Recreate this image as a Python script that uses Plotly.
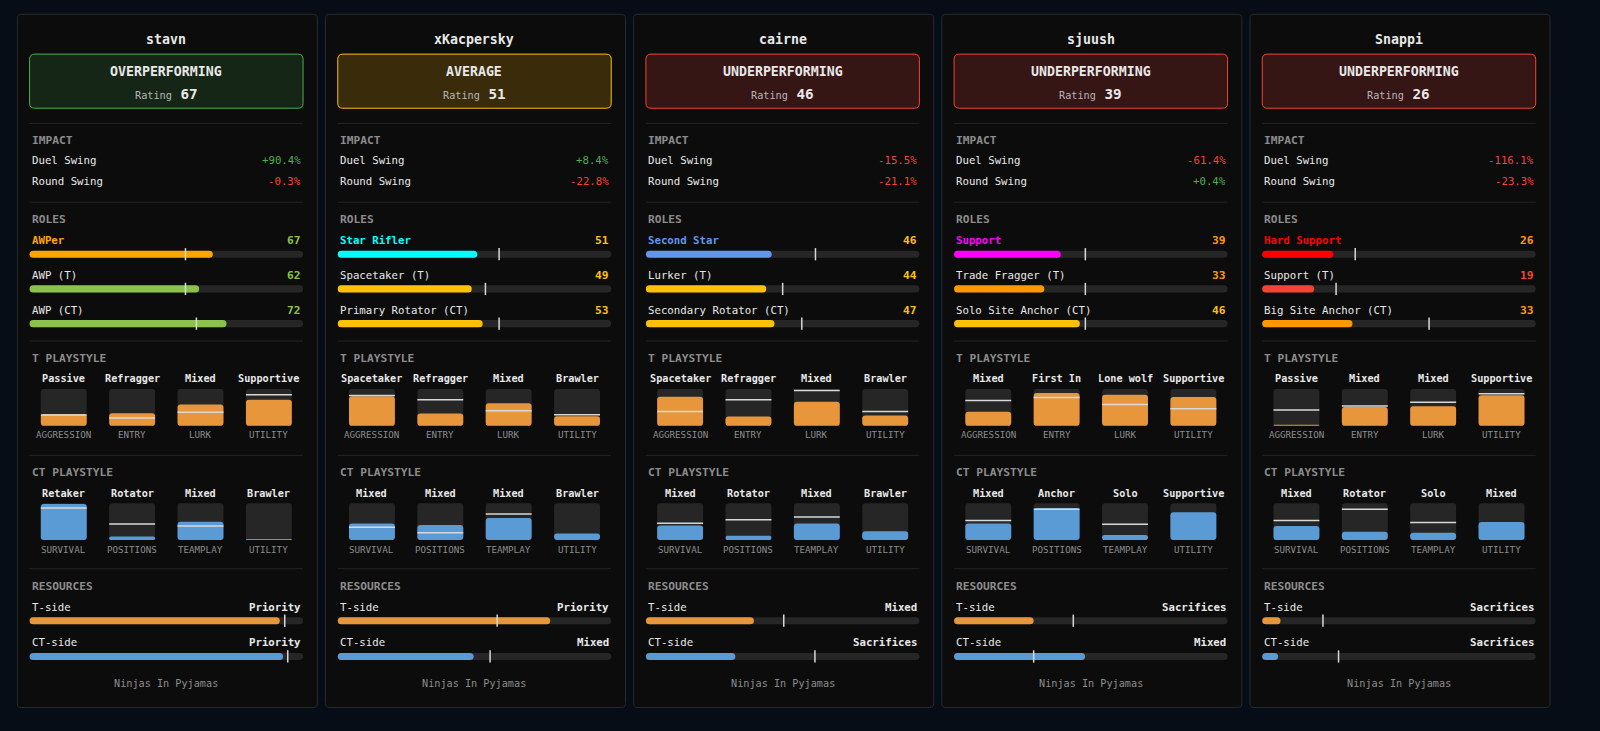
import plotly.graph_objects as go

W, H = 1600, 731
# layout grid was measured on a 1568 x 716 view of the page
GW, GH = 1568, 716
FS = W / GW
FONT = "DejaVu Sans Mono"

# ---- data ----
players = ["stavn", "xKacpersky", "cairne", "sjuush", "Snappi"]
team = "Ninjas In Pyjamas"
status = ["OVERPERFORMING", "AVERAGE", "UNDERPERFORMING", "UNDERPERFORMING", "UNDERPERFORMING"]
rating = [67, 51, 46, 39, 26]
duel_swing = [90.4, 8.4, -15.5, -61.4, -116.1]
round_swing = [-0.3, -22.8, -21.1, 0.4, -23.3]

role_names = [
    ["AWPer", "AWP (T)", "AWP (CT)"],
    ["Star Rifler", "Spacetaker (T)", "Primary Rotator (CT)"],
    ["Second Star", "Lurker (T)", "Secondary Rotator (CT)"],
    ["Support", "Trade Fragger (T)", "Solo Site Anchor (CT)"],
    ["Hard Support", "Support (T)", "Big Site Anchor (CT)"],
]
role_scores = [[67, 62, 72], [51, 49, 53], [46, 44, 47], [39, 33, 46], [26, 19, 33]]
role_avg = [[57, 57, 61], [59, 54, 59], [62, 50, 57], [48, 48, 48], [34, 27, 61]]
primary_role_color = ["#ffa500", "#00ffff", "#6495ed", "#ff00ff", "#ff0000"]

t_axes = ["AGGRESSION", "ENTRY", "LURK", "UTILITY"]
t_tags = [
    ["Passive", "Refragger", "Mixed", "Supportive"],
    ["Spacetaker", "Refragger", "Mixed", "Brawler"],
    ["Spacetaker", "Refragger", "Mixed", "Brawler"],
    ["Mixed", "First In", "Lone wolf", "Supportive"],
    ["Passive", "Mixed", "Mixed", "Supportive"],
]
t_vals = [[32, 34, 58, 71], [80, 33, 61, 26], [79, 25, 65, 28], [38, 89, 84, 78], [3, 51, 53, 83]]
t_avg = [[29, 21, 37, 84], [82, 71, 41, 30], [39, 71, 96, 39], [69, 77, 58, 46], [43, 54, 64, 87]]

ct_axes = ["SURVIVAL", "POSITIONS", "TEAMPLAY", "UTILITY"]
ct_tags = [
    ["Retaker", "Rotator", "Mixed", "Brawler"],
    ["Mixed", "Mixed", "Mixed", "Brawler"],
    ["Mixed", "Rotator", "Mixed", "Brawler"],
    ["Mixed", "Anchor", "Solo", "Supportive"],
    ["Mixed", "Rotator", "Solo", "Mixed"],
]
ct_vals = [[98, 10, 50, 3], [45, 41, 60, 18], [40, 12, 45, 24], [45, 87, 14, 76], [38, 23, 20, 49]]
ct_avg = [[87, 44, 38, None], [35, 20, 71, None], [46, 55, 63, None],
          [53, 84, 43, None], [53, 84, 48, None]]

res_t_tag = ["Priority", "Priority", "Mixed", "Sacrifices", "Sacrifices"]
res_t = [91.5, 77.7, 39.5, 29.1, 6.7]
res_t_avg = [93.3, 58.3, 50.4, 43.6, 22.2]
res_ct_tag = ["Priority", "Mixed", "Sacrifices", "Mixed", "Sacrifices"]
res_ct = [92.7, 49.7, 32.7, 47.9, 5.8]
res_ct_avg = [94.4, 55.7, 61.8, 29.1, 27.9]

# ---- style ----
PAGE_BG = "#060d17"
CARD_BG = "#0c0c0c"
CARD_LINE = "#2a2a2a"
TRACK = "#262626"
ORANGE = "#e8963c"
BLUE = "#5b9bd5"
MARK = "#d8d8d8"
GREY = "#8c8c8c"
WHITE = "#e8e8e8"
status_style = {
    "OVERPERFORMING": ("#4caf50", "#152616"),
    "AVERAGE": ("#ffc107", "#3a2c0a"),
    "UNDERPERFORMING": ("#f44336", "#361515"),
}


def score_color(v):
    if v >= 60:
        return "#8bc34a"
    if v >= 40:
        return "#ffc107"
    if v >= 20:
        return "#ff9800"
    return "#f44336"


def rrect(x0, y0, x1, y1, r):
    r = min(r, (x1 - x0) / 2, (y1 - y0) / 2)
    return (f"M{x0 + r},{y0} L{x1 - r},{y0} Q{x1},{y0} {x1},{y0 + r} "
            f"L{x1},{y1 - r} Q{x1},{y1} {x1 - r},{y1} L{x0 + r},{y1} "
            f"Q{x0},{y1} {x0},{y1 - r} L{x0},{y0 + r} Q{x0},{y0} {x0 + r},{y0} Z")


shapes = []
notes = []


def box(x0, y0, x1, y1, r, fill, line=None, lw=1):
    shapes.append(dict(type="path", path=rrect(x0, y0, x1, y1, r), fillcolor=fill,
                       line=dict(color=line or fill, width=lw if line else 0), layer="above"))


def hline(x0, x1, y, color, w=1):
    shapes.append(dict(type="line", x0=x0, x1=x1, y0=y, y1=y, line=dict(color=color, width=w)))


def vline(x, y0, y1, color, w=2):
    shapes.append(dict(type="line", x0=x, x1=x, y0=y0, y1=y1, line=dict(color=color, width=w)))


def text(x, y, s, size=10, color=WHITE, anchor="left", bold=False):
    notes.append(dict(x=x, y=y, text=f"<b>{s}</b>" if bold else s, showarrow=False,
                      xanchor=anchor, yanchor="middle",
                      font=dict(family=FONT, size=size * FS, color=color)))


def hbar(x0, x1, y, pct, avg, color):
    box(x0, y - 3.5, x1, y + 3.5, 3.5, TRACK)
    box(x0, y - 3.5, x0 + (x1 - x0) * pct / 100, y + 3.5, 3.5, color)
    xm = x0 + (x1 - x0) * avg / 100
    vline(xm, y - 6, y + 6, MARK, 1.5)


def tiles(x0, cw, y, tags, vals, avgs, names, color):
    bw, bh = 45, 36
    for k in range(4):
        cx = x0 + cw * (k + 0.5)
        text(cx, y, tags[k], 10, WHITE, "center", True)
        top, bot = y + 10, y + 10 + bh
        box(cx - bw / 2, top, cx + bw / 2, bot, 3, TRACK)
        if vals[k] > 0:
            box(cx - bw / 2, bot - bh * vals[k] / 100, cx + bw / 2, bot, 3, color)
        if avgs[k] is not None:
            hline(cx - bw / 2, cx + bw / 2, bot - bh * avgs[k] / 100, MARK, 1.5)
        text(cx, bot + 9, names[k], 9, GREY, "center")


for i, name in enumerate(players):
    left = 17 + i * 302
    cl, cr = left + 12, left + 280
    mid = (cl + cr) / 2
    box(left, 14, left + 294, 693, 4, CARD_BG, CARD_LINE, 1)

    text(mid, 39, name, 13, WHITE, "center", True)
    line_c, fill_c = status_style[status[i]]
    box(cl, 53, cr, 106, 5, fill_c, line_c, 1)
    text(mid, 70, status[i], 13, WHITE, "center", True)
    text(mid, 92, f"<span style='font-size:{10 * FS:.1f}px;color:#b5b5b5'>Rating</span> <b>{rating[i]}</b>",
         14, WHITE, "center")

    hline(cl, cr, 121, "#232323")
    text(cl, 138, "IMPACT", 11, GREY, bold=True)
    for y, lab, v in [(157, "Duel Swing", duel_swing[i]), (178, "Round Swing", round_swing[i])]:
        text(cl, y, lab, 10.5, WHITE)
        text(cr, y, f"{v:+.1f}%", 10.5, "#4caf50" if v >= 0 else "#f44336", "right")

    hline(cl, cr, 198, "#232323")
    text(cl, 215, "ROLES", 11, GREY, bold=True)
    for k in range(3):
        y = 236 + 34 * k
        sc = role_scores[i][k]
        c = primary_role_color[i] if k == 0 else score_color(sc)
        text(cl, y, role_names[i][k], 10.5, c if k == 0 else WHITE, bold=(k == 0))
        text(cr, y, str(sc), 11, score_color(sc), "right", True)
        hbar(cl, cr, y + 13, sc, role_avg[i][k], c)

    cw = (cr - cl) / 4
    hline(cl, cr, 334, "#232323")
    text(cl, 351, "T PLAYSTYLE", 11, GREY, bold=True)
    tiles(cl, cw, 371, t_tags[i], t_vals[i], t_avg[i], t_axes, ORANGE)

    hline(cl, cr, 446, "#232323")
    text(cl, 463, "CT PLAYSTYLE", 11, GREY, bold=True)
    tiles(cl, cw, 483, ct_tags[i], ct_vals[i], ct_avg[i], ct_axes, BLUE)

    hline(cl, cr, 557, "#232323")
    text(cl, 574, "RESOURCES", 11, GREY, bold=True)
    text(cl, 595, "T-side", 10.5, WHITE)
    text(cr, 595, res_t_tag[i], 10.5, WHITE, "right", True)
    hbar(cl, cr, 608, res_t[i], res_t_avg[i], ORANGE)
    text(cl, 629, "CT-side", 10.5, WHITE)
    text(cr, 629, res_ct_tag[i], 10.5, WHITE, "right", True)
    hbar(cl, cr, 643, res_ct[i], res_ct_avg[i], BLUE)

    text(mid, 669, team, 10, GREY, "center")

fig = go.Figure(go.Scatter(x=[], y=[]))
fig.update_layout(
    width=W, height=H, margin=dict(l=0, r=0, t=0, b=0),
    paper_bgcolor=PAGE_BG, plot_bgcolor=PAGE_BG, showlegend=False,
    xaxis=dict(range=[0, GW], visible=False, fixedrange=True),
    yaxis=dict(range=[GH, 0], visible=False, fixedrange=True),
    shapes=shapes, annotations=notes,
)
fig.write_html("out.html", config={"displayModeBar": False},
               post_script="document.body.style.margin='0';document.body.style.background='#060d17';")
